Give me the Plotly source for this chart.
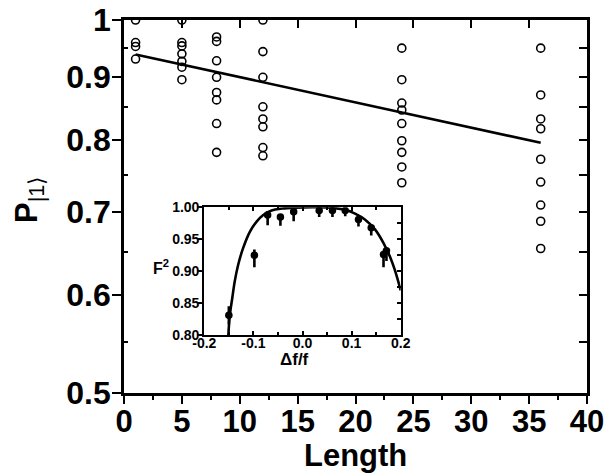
import math
import plotly.graph_objects as go

# ---- main panel: measured P|1> versus chain length (open circles) ----
lengths = [1, 5, 8, 12, 24, 36]
p_len1 = [1.0, 0.959, 0.952, 0.930]
p_len5 = [1.0, 0.959, 0.953, 0.939, 0.926, 0.916, 0.895]
p_len8 = [0.969, 0.961, 0.927, 0.899, 0.874, 0.862, 0.825, 0.782]
p_len12 = [1.0, 0.943, 0.899, 0.851, 0.832, 0.820, 0.789, 0.777]
p_len24 = [0.949, 0.895, 0.857, 0.846, 0.825, 0.799, 0.782, 0.761, 0.739]
p_len36 = [0.949, 0.870, 0.832, 0.817, 0.772, 0.740, 0.709, 0.688, 0.654]
p_groups = [p_len1, p_len5, p_len8, p_len12, p_len24, p_len36]

# exponential fit (straight on the log axis)
fit_len = [1, 36]
fit_p = [0.938, 0.796]

x_ticks = [0, 5, 10, 15, 20, 25, 30, 35, 40]
x_minor = [2.5, 7.5, 12.5, 17.5, 22.5, 27.5, 32.5, 37.5]
y_ticks = [0.5, 0.6, 0.7, 0.8, 0.9, 1.0]
y_tick_text = ["0.5", "0.6", "0.7", "0.8", "0.9", "1"]
y_minor = [0.55, 0.65, 0.75, 0.85, 0.95]

# ---- inset: F^2 versus relative detuning ----
detune = [-0.150, -0.098, -0.071, -0.045, -0.018, 0.034, 0.061, 0.087, 0.114, 0.140, 0.165, 0.171]
fid2 = [0.831, 0.925, 0.988, 0.985, 0.993, 0.995, 0.995, 0.995, 0.981, 0.968, 0.926, 0.932]
fid2_err_up = [0.014, 0.009, 0.006, 0.004, 0.004, 0.002, 0.002, 0.002, 0.003, 0.003, 0.006, 0.004]
fid2_err_down = [0.014, 0.019, 0.016, 0.014, 0.015, 0.010, 0.010, 0.009, 0.011, 0.012, 0.020, 0.016]

theory_detune = [-0.151, -0.148, -0.143, -0.138, -0.131, -0.121, -0.107, -0.093, -0.080, -0.063,
                 -0.042, -0.015, 0.020, 0.055, 0.087, 0.107, 0.127, 0.148, 0.165, 0.178, 0.188, 0.200]
theory_fid2 = [0.800, 0.831, 0.858, 0.884, 0.910, 0.936, 0.962, 0.978, 0.988, 0.995,
               0.998, 0.9995, 1.000, 0.9995, 0.996, 0.990, 0.981, 0.965, 0.944, 0.923, 0.902, 0.870]

inset_x_ticks = [-0.2, -0.1, 0.0, 0.1, 0.2]
inset_y_ticks = [0.80, 0.85, 0.90, 0.95, 1.00]

FONT = "Liberation Sans, Arial, sans-serif"
BLACK = "#000000"

# plot-area geometry in pixels
L_M, R_M, T_M, B_M = 124, 22, 20, 83
W, H = 609, 476
PW, PH = W - L_M - R_M, H - T_M - B_M


def px_to_paper(px, py):
    return (px - L_M) / PW, (H - B_M - py) / PH


fig = go.Figure()

# open circles
pts_x, pts_y = [], []
for L, grp in zip(lengths, p_groups):
    pts_x += [L] * len(grp)
    pts_y += grp
fig.add_trace(go.Scatter(
    x=pts_x, y=pts_y, mode="markers", cliponaxis=True,
    marker=dict(symbol="circle-open", size=8, color=BLACK, line=dict(width=1.6)),
    xaxis="x", yaxis="y", showlegend=False))

# fit line
fig.add_trace(go.Scatter(
    x=fit_len, y=fit_p, mode="lines",
    line=dict(color=BLACK, width=2.6),
    xaxis="x", yaxis="y", showlegend=False))

# inset theory curve
fig.add_trace(go.Scatter(
    x=theory_detune, y=theory_fid2, mode="lines", line_shape="spline",
    line=dict(color=BLACK, width=2.6),
    xaxis="x2", yaxis="y2", showlegend=False))

# inset data with error bars
fig.add_trace(go.Scatter(
    x=detune, y=fid2, mode="markers",
    marker=dict(symbol="circle", size=7.5, color=BLACK),
    error_y=dict(type="data", symmetric=False, array=fid2_err_up, arrayminus=fid2_err_down,
                 color=BLACK, thickness=2.6, width=0),
    xaxis="x2", yaxis="y2", showlegend=False))

# empty traces so the mirror-tick axes get drawn
fig.add_trace(go.Scatter(x=[], y=[], xaxis="x3", yaxis="y3", showlegend=False, hoverinfo="skip"))
fig.add_trace(go.Scatter(x=[], y=[], xaxis="x2", yaxis="y4", showlegend=False, hoverinfo="skip"))

ylog_range = [math.log10(0.5), 0.0]

ix0, iy0 = px_to_paper(204.3, 335)
ix1, iy1 = px_to_paper(400.7, 207.3)

fig.update_layout(
    width=W, height=H, autosize=False,
    margin=dict(l=L_M, r=R_M, t=T_M, b=B_M, pad=0, autoexpand=False),
    paper_bgcolor="white", plot_bgcolor="white",
    font=dict(family=FONT, color=BLACK),
    xaxis=dict(
        range=[0, 40], tickmode="array", tickvals=x_ticks, automargin=False,
        ticks="outside", ticklen=8, tickwidth=2.2, tickcolor=BLACK,
        minor=dict(tickmode="array", tickvals=x_minor, ticks="outside", ticklen=4, tickwidth=2, tickcolor=BLACK),
        showline=True, linewidth=2.6, linecolor=BLACK, mirror=True,
        showgrid=False, zeroline=False,
        tickfont=dict(size=31, family=FONT, weight=700), ticklabelstandoff=-9,
    ),
    yaxis=dict(
        type="log", range=ylog_range, tickmode="array", tickvals=y_ticks, ticktext=y_tick_text,
        automargin=False,
        ticks="outside", ticklen=9, tickwidth=2.2, tickcolor=BLACK,
        minor=dict(tickmode="array", tickvals=y_minor, ticks="inside", ticklen=4, tickwidth=2, tickcolor=BLACK),
        showline=True, linewidth=2.6, linecolor=BLACK, mirror=True,
        showgrid=False, zeroline=False,
        tickfont=dict(size=32, family=FONT, weight=700), ticklabelstandoff=-5,
    ),
    xaxis3=dict(
        overlaying="x", side="top", anchor="y", range=[0, 40], tickmode="array", tickvals=x_ticks,
        automargin=False,
        ticks="inside", ticklen=8, tickwidth=2.2, tickcolor=BLACK,
        showticklabels=False, showline=False, showgrid=False, zeroline=False,
    ),
    yaxis3=dict(
        overlaying="y", side="right", anchor="x", type="log", range=ylog_range,
        tickmode="array", tickvals=y_minor + y_ticks, automargin=False,
        ticks="inside", ticklen=8, tickwidth=2.2, tickcolor=BLACK,
        showticklabels=False, showline=False, showgrid=False, zeroline=False,
    ),
    xaxis2=dict(
        domain=[ix0, ix1], anchor="y2", range=[-0.2, 0.2], automargin=False,
        tickmode="array", tickvals=inset_x_ticks, ticktext=["-0.2", "-0.1", "0.0", "0.1", "0.2"],
        ticks="inside", ticklen=4, tickwidth=1.8, tickcolor=BLACK,
        minor=dict(dtick=0.05, tick0=0, ticks="inside", ticklen=3, tickwidth=1.6, tickcolor=BLACK),
        showline=True, linewidth=2.2, linecolor=BLACK, mirror="ticks",
        showgrid=False, zeroline=False,
        tickfont=dict(size=14, family=FONT, weight=700), ticklabelstandoff=-6,
    ),
    yaxis2=dict(
        domain=[iy0, iy1], anchor="x2", range=[0.80, 1.00], automargin=False,
        tickmode="array", tickvals=inset_y_ticks, ticktext=["0.80", "0.85", "0.90", "0.95", "1.00"],
        ticks="outside", ticklen=4, tickwidth=1.8, tickcolor=BLACK,
        showline=True, linewidth=2.2, linecolor=BLACK, mirror=True,
        showgrid=False, zeroline=False,
        tickfont=dict(size=14, family=FONT, weight=700), ticklabelstandoff=-4,
    ),
    yaxis4=dict(
        overlaying="y2", side="right", anchor="x2", range=[0.80, 1.00], automargin=False,
        dtick=0.025, tick0=0.8,
        ticks="inside", ticklen=4, tickwidth=1.6, tickcolor=BLACK,
        showticklabels=False, showline=False, showgrid=False, zeroline=False,
    ),
)

ann = []
x, y = px_to_paper(355, 456)
ann.append(dict(text="<b>Length</b>", x=x, y=y, font=dict(size=31)))
x, y = px_to_paper(29, 200)
ann.append(dict(text="<b>P</b><sub>|1⟩</sub>", x=x, y=y, textangle=-90, font=dict(size=31)))
x, y = px_to_paper(161, 267)
ann.append(dict(text="<b>F<sup>2</sup></b>", x=x, y=y, font=dict(size=16)))
x, y = px_to_paper(294, 359)
ann.append(dict(text="<b>Δf/f</b>", x=x, y=y, font=dict(size=17)))
for a in ann:
    a.update(xref="paper", yref="paper", xanchor="center", yanchor="middle", showarrow=False)
    a["font"].update(family=FONT, color=BLACK)
fig.update_layout(annotations=ann)

fig.write_html("out.html")
